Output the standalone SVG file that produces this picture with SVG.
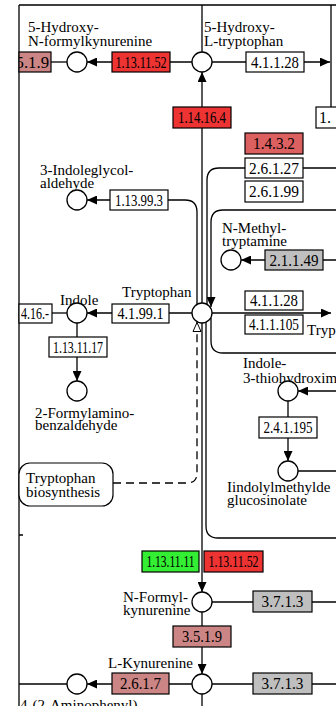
<svg xmlns="http://www.w3.org/2000/svg" width="336" height="706" viewBox="0 0 336 706">
<defs>
<style>
.ln{stroke:#000;stroke-width:1.3;fill:none}
.ar{marker-end:url(#arr)}
.dash{stroke-dasharray:8 5}
.cp{fill:#fff;stroke:#000;stroke-width:1.3}
.bx{stroke:#000;stroke-width:1.2}
.w{fill:#fff}.red{fill:#ee3333}.rd2{fill:#dd6060}.pk{fill:#cc8585}.gr{fill:#bfbfbf}.gn{fill:#33ee33}
.lbl{font-family:"Liberation Serif","Times New Roman",serif;font-size:15px;fill:#000}
.ec{font-family:"Liberation Serif","Times New Roman",serif;font-size:16px;fill:#000;text-anchor:middle}
</style>
<marker id="arr" viewBox="0 0 10 9" refX="10" refY="4.5" markerWidth="10" markerHeight="9" markerUnits="userSpaceOnUse" orient="auto">
<path d="M0,0 L10,4.5 L0,9 z" fill="#000"/>
</marker>
<marker id="oarr" viewBox="-1 -1 11 10" refX="9.5" refY="4" markerWidth="11" markerHeight="10" markerUnits="userSpaceOnUse" orient="auto">
<path d="M0,0 L9,4 L0,8 z" fill="#fff" stroke="#000" stroke-width="1" stroke-dasharray="none"/>
</marker>
<clipPath id="clipL"><rect x="19" y="0" width="40" height="706"/></clipPath>
</defs>
<rect width="336" height="706" fill="#fff"/>
<g id="connectors">
<path class="ln" d="M19,5 H336 M19,5 V706 M19,535 H23 M331,5 V107"/>
<path class="ln" d="M202,5 V52"/>
<path class="ln ar" d="M202,303 V72"/>
<path class="ln ar" d="M192,62 H87"/>
<path class="ln" d="M67,62 H51"/>
<path class="ln ar" d="M212,62 H330"/>
<path class="ln ar" d="M197,304.5 V212 Q197,200 185,200 H87"/>
<path class="ln" d="M336,168 H219 Q207,168 207,180 V304"/>
<path class="ln ar" d="M336,210 H223 Q211,210 211,222 V307"/>
<path class="ln ar" d="M336,260 H241"/>
<path class="ln ar" d="M212,313 H331"/>
<path class="ln" d="M211,317.5 V341 Q211,353 223,353 H336"/>
<path class="ln" d="M206,322 V526 Q206,538 218,538 H336"/>
<path class="ln dash" style="marker-end:url(#oarr)" d="M113,483 H187 Q197,483 197,473 V322"/>
<path class="ln ar" d="M192,313 H87"/>
<path class="ln" d="M67,313 H52"/>
<path class="ln ar" d="M77,323 V381"/>
<path class="ln ar" d="M336,391 H298"/>
<path class="ln ar" d="M288,401 V461"/>
<path class="ln" d="M298,471 H336"/>
<path class="ln ar" d="M202,323 V592"/>
<path class="ln" d="M212,602 H336"/>
<path class="ln ar" d="M202,612 V674"/>
<path class="ln ar" d="M192,684 H87"/>
<path class="ln" d="M67,684 H19"/>
<path class="ln" d="M212,684 H336"/>
<path class="ln" d="M202,694 V706"/>
</g>
<g id="n_5hnfk"><text class="lbl" x="28" y="32">5-Hydroxy-</text><text class="lbl" x="28" y="46">N-formylkynurenine</text><circle class="cp" cx="77" cy="62" r="10"/></g>
<g id="n_5htp"><text class="lbl" x="204" y="32">5-Hydroxy-</text><text class="lbl" x="204" y="46">L-tryptophan</text><circle class="cp" cx="202" cy="62" r="10"/></g>
<g id="n_iga"><text class="lbl" x="40" y="175">3-Indoleglycol-</text><text class="lbl" x="40" y="188">aldehyde</text><circle class="cp" cx="77" cy="200" r="10"/></g>
<g id="n_nmt"><text class="lbl" x="222" y="233">N-Methyl-</text><text class="lbl" x="222" y="246">tryptamine</text><circle class="cp" cx="231" cy="260" r="10"/></g>
<g id="n_trp"><text class="lbl" x="122" y="297">Tryptophan</text><circle class="cp" cx="202" cy="313" r="10"/></g>
<g id="n_tryptamine"><text class="lbl" x="307" y="335">Tryptamine</text></g>
<g id="n_indole"><text class="lbl" x="60" y="305">Indole</text><circle class="cp" cx="77" cy="313" r="10"/></g>
<g id="n_2fab"><circle class="cp" cx="77" cy="391" r="10"/><text class="lbl" x="35" y="418">2-Formylamino-</text><text class="lbl" x="35" y="430">benzaldehyde</text></g>
<g id="n_i3th"><text class="lbl" x="243" y="368">Indole-</text><text class="lbl" x="243" y="383">3-thiohydroximate</text><circle class="cp" cx="288" cy="391" r="10"/></g>
<g id="n_iglu"><circle class="cp" cx="288" cy="471" r="10"/><text class="lbl" x="227" y="492">Iindolylmethylde</text><text class="lbl" x="227" y="505">glucosinolate</text></g>
<g id="n_trpbio"><rect class="bx w" x="19" y="463" width="94" height="43" rx="11"/><text class="lbl" x="26" y="483">Tryptophan</text><text class="lbl" x="26" y="497">biosynthesis</text></g>
<g id="n_nfk"><text class="lbl" x="123" y="602">N-Formyl-</text><text class="lbl" x="123" y="615">kynurenine</text><circle class="cp" cx="202" cy="602" r="10"/></g>
<g id="n_lkyn"><text class="lbl" x="108" y="668">L-Kynurenine</text><circle class="cp" cx="202" cy="684" r="10"/></g>
<g id="n_aph"><circle class="cp" cx="77" cy="684" r="10"/><text class="lbl" x="20" y="710">4-(2-Aminophenyl)</text></g>
<g id="e_3519a"><rect class="bx pk" x="19" y="52" width="32" height="20"/><text class="ec" clip-path="url(#clipL)" style="text-anchor:end" x="49" y="67.5" textLength="46" lengthAdjust="spacingAndGlyphs">3.5.1.9</text></g>
<g id="e_1131152a"><rect class="bx red" x="112" y="52" width="58" height="20"/><text class="ec" x="141" y="67.5" textLength="51" lengthAdjust="spacingAndGlyphs">1.13.11.52</text></g>
<g id="e_41128a"><rect class="bx w" x="246" y="52" width="58" height="20"/><text class="ec" x="275" y="67.5" textLength="48" lengthAdjust="spacingAndGlyphs">4.1.1.28</text></g>
<g id="e_1x"><rect class="bx w" x="316" y="107" width="30" height="21"/><text class="lbl" style="font-size:16px" x="319" y="123">1.</text></g>
<g id="e_114164"><rect class="bx red" x="173" y="107" width="58" height="21"/><text class="ec" x="202" y="123" textLength="48" lengthAdjust="spacingAndGlyphs">1.14.16.4</text></g>
<g id="e_1432"><rect class="bx rd2" x="245" y="133" width="58" height="21"/><text class="ec" x="274" y="149" textLength="42" lengthAdjust="spacingAndGlyphs">1.4.3.2</text></g>
<g id="e_26127"><rect class="bx w" x="245" y="158" width="58" height="20"/><text class="ec" x="274" y="173.5" textLength="50" lengthAdjust="spacingAndGlyphs">2.6.1.27</text></g>
<g id="e_26199"><rect class="bx w" x="245" y="181" width="58" height="21"/><text class="ec" x="274" y="197" textLength="50" lengthAdjust="spacingAndGlyphs">2.6.1.99</text></g>
<g id="e_113993"><rect class="bx w" x="110" y="190" width="58" height="20"/><text class="ec" x="139" y="205.5" textLength="48" lengthAdjust="spacingAndGlyphs">1.13.99.3</text></g>
<g id="e_21149"><rect class="bx gr" x="265" y="250" width="58" height="20"/><text class="ec" x="294" y="265.5" textLength="49" lengthAdjust="spacingAndGlyphs">2.1.1.49</text></g>
<g id="e_41128b"><rect class="bx w" x="245" y="291" width="58" height="19"/><text class="ec" x="274" y="306" textLength="48" lengthAdjust="spacingAndGlyphs">4.1.1.28</text></g>
<g id="e_411105"><rect class="bx w" x="245" y="315" width="58" height="19"/><text class="ec" x="274" y="330" textLength="50" lengthAdjust="spacingAndGlyphs">4.1.1.105</text></g>
<g id="e_41991"><rect class="bx w" x="112" y="304" width="57" height="19"/><text class="ec" x="140.5" y="319" textLength="46" lengthAdjust="spacingAndGlyphs">4.1.99.1</text></g>
<g id="e_416"><rect class="bx w" x="19" y="304" width="33" height="19"/><text class="ec" style="text-anchor:end" x="49" y="319" textLength="28" lengthAdjust="spacingAndGlyphs">4.16.-</text></g>
<g id="e_1131117"><rect class="bx w" x="49" y="337" width="58" height="20"/><text class="ec" x="78" y="352.5" textLength="50" lengthAdjust="spacingAndGlyphs">1.13.11.17</text></g>
<g id="e_241195"><rect class="bx w" x="259" y="417" width="58" height="21"/><text class="ec" x="288" y="433" textLength="49" lengthAdjust="spacingAndGlyphs">2.4.1.195</text></g>
<g id="e_1131111"><rect class="bx gn" x="142" y="551" width="57" height="21"/><text class="ec" x="170.5" y="567" textLength="48" lengthAdjust="spacingAndGlyphs">1.13.11.11</text></g>
<g id="e_1131152b"><rect class="bx red" x="204" y="551" width="59" height="21"/><text class="ec" x="233.5" y="567" textLength="50" lengthAdjust="spacingAndGlyphs">1.13.11.52</text></g>
<g id="e_3713a"><rect class="bx gr" x="253" y="591" width="59" height="21"/><text class="ec" x="282.5" y="607" textLength="42" lengthAdjust="spacingAndGlyphs">3.7.1.3</text></g>
<g id="e_3519b"><rect class="bx pk" x="173" y="626" width="58" height="21"/><text class="ec" x="202" y="642" textLength="40" lengthAdjust="spacingAndGlyphs">3.5.1.9</text></g>
<g id="e_2617"><rect class="bx pk" x="112" y="673" width="57" height="21"/><text class="ec" x="140.5" y="689" textLength="41" lengthAdjust="spacingAndGlyphs">2.6.1.7</text></g>
<g id="e_3713b"><rect class="bx gr" x="253" y="673" width="59" height="21"/><text class="ec" x="282.5" y="689" textLength="42" lengthAdjust="spacingAndGlyphs">3.7.1.3</text></g>
</svg>
